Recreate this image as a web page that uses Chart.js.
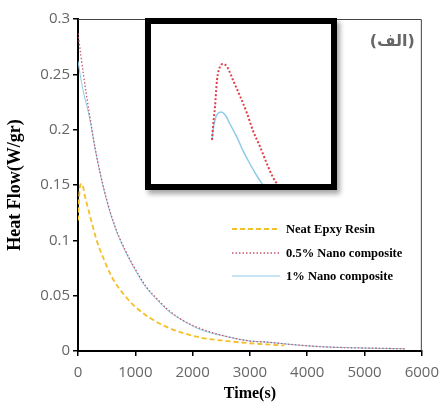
<!DOCTYPE html>
<html>
<head>
<meta charset="utf-8">
<script src="https://cdn.jsdelivr.net/npm/chart.js@4.4.1/dist/chart.umd.min.js"></script>
<style>
	html, body { margin: 0; padding: 0; background: #fff; }
	#wrap { position: relative; width: 447px; height: 412px; }
	#inset {
		position: absolute; left: 145px; top: 18px; width: 180px; height: 160px;
		border: 6px solid #000; background: #fff;
		box-shadow: 3px 4px 5px rgba(0,0,0,0.35);
	}
	canvas { display: block; }
</style>
</head>
<body>
<div id="wrap">
	<canvas id="main" width="447" height="412"></canvas>
	<div id="inset"><canvas id="zoom" width="180" height="160"></canvas></div>
</div>
<script>
// values
const timeNeat = [0, 15, 40, 70, 120, 200, 320, 450, 600, 800, 1000, 1250, 1580, 1850, 2150, 2600, 3000, 3300, 3600];
const heatNeat = [0.118, 0.135, 0.150, 0.151, 0.140, 0.124, 0.101, 0.083, 0.066, 0.051, 0.040, 0.030, 0.021, 0.016, 0.012, 0.009, 0.007, 0.006, 0.005];

const timeNano05 = [0, 50, 100, 200, 300, 400, 500, 650, 835, 1000, 1178, 1400, 1578, 1850, 2150, 2600, 3000, 3300, 3700, 4200, 4700, 5200, 5700];
const heatNano05 = [0.287, 0.267, 0.248, 0.214, 0.183, 0.158, 0.137, 0.112, 0.090, 0.074, 0.059, 0.046, 0.037, 0.027, 0.020, 0.013, 0.009, 0.008, 0.006, 0.004, 0.003, 0.0025, 0.002];

const timeNano1 = [0, 50, 100, 200, 300, 400, 500, 650, 835, 1000, 1178, 1400, 1578, 1850, 2150, 2600, 3000, 3300, 3700, 4200, 4700, 5200, 5700];
const heatNano1 = [0.262, 0.246, 0.233, 0.211, 0.182, 0.157, 0.136, 0.111, 0.089, 0.073, 0.058, 0.045, 0.036, 0.027, 0.019, 0.013, 0.009, 0.008, 0.006, 0.004, 0.003, 0.0025, 0.002];

const seriesLabels = ['Neat Epxy Resin', '0.5% Nano composite', '1% Nano composite'];

// zoomed start of the curves shown in the inset
const insetTime05 = [61, 62, 64, 66, 69, 72, 76, 82, 89, 96, 102, 109, 116, 122, 128];
const insetHeat05 = [0.193, 0.203, 0.218, 0.238, 0.248, 0.250, 0.248, 0.238, 0.226, 0.213, 0.200, 0.188, 0.175, 0.165, 0.158];
const insetTime1 = [61, 62, 64, 66, 70, 74, 79, 86, 92, 99, 106, 113];
const insetHeat1 = [0.193, 0.200, 0.208, 0.212, 0.214, 0.212, 0.205, 0.195, 0.185, 0.175, 0.166, 0.158];

const cornerLabel = '(الف)';

const YELLOW = '#f5bf2a';
const RED = '#c45a6c';
const BLUE = '#8ecbe8';

function toPoints(xs, ys) {
	return xs.map((x, i) => ({ x: x, y: ys[i] }));
}

const framePlugin = {
	id: 'frame',
	afterDraw(chart) {
		const { ctx, chartArea: a } = chart;
		ctx.save();
		ctx.strokeStyle = '#444';
		ctx.lineWidth = 1;
		ctx.beginPath();
		ctx.moveTo(a.left, a.top + 0.5);
		ctx.lineTo(a.right - 0.5, a.top + 0.5);
		ctx.lineTo(a.right - 0.5, a.bottom);
		ctx.stroke();

		// legend inside the plot
		const rows = [210, 234, 257];
		chart.data.datasets.forEach((ds, i) => {
			const y = a.top + rows[i];
			ctx.strokeStyle = ds.borderColor;
			ctx.lineWidth = ds.borderWidth;
			ctx.setLineDash(ds.borderDash || []);
			ctx.beginPath();
			ctx.moveTo(a.left + 154, y);
			ctx.lineTo(a.left + 202, y);
			ctx.stroke();
			ctx.setLineDash([]);
			ctx.fillStyle = '#000';
			ctx.font = 'bold 12.5px "Liberation Serif"';
			ctx.textAlign = 'left';
			ctx.textBaseline = 'middle';
			ctx.fillText(ds.label, a.left + 208, y + 1);
		});

		ctx.fillStyle = '#666';
		ctx.font = 'bold 16px "DejaVu Sans"';
		ctx.textAlign = 'right';
		ctx.textBaseline = 'middle';
		ctx.fillText(cornerLabel, a.right - 7, a.top + 23);
		ctx.restore();
	}
};

new Chart(document.getElementById('main').getContext('2d'), {
	type: 'line',
	data: {
		datasets: [
			{
				label: seriesLabels[0],
				data: toPoints(timeNeat, heatNeat),
				borderColor: YELLOW,
				borderWidth: 1.8,
				borderDash: [5, 3],
				pointRadius: 0,
				cubicInterpolationMode: 'monotone'
			},
			{
				label: seriesLabels[1],
				data: toPoints(timeNano05, heatNano05),
				borderColor: RED,
				borderWidth: 1.3,
				borderDash: [1.5, 2],
				pointRadius: 0,
				cubicInterpolationMode: 'monotone'
			},
			{
				label: seriesLabels[2],
				data: toPoints(timeNano1, heatNano1),
				borderColor: BLUE,
				borderWidth: 1,
				pointRadius: 0,
				cubicInterpolationMode: 'monotone'
			}
		]
	},
	options: {
		responsive: false,
		animation: false,
		devicePixelRatio: 1,
		layout: { padding: { top: 19, right: 19, left: 0, bottom: 0 } },
		plugins: {
			legend: { display: false },
			tooltip: { enabled: false }
		},
		scales: {
			x: {
				type: 'linear',
				min: 0,
				max: 6000,
				ticks: {
					stepSize: 1000,
					color: '#666',
					font: { family: 'Open Sans', size: 15 },
					padding: 8,
					maxRotation: 0,
					callback: v => String(v)
				},
				grid: { drawOnChartArea: false, tickLength: 5, color: '#000', lineWidth: 1.5 },
				border: { color: '#000', width: 2 },
				title: {
					display: true,
					text: 'Time(s)',
					color: '#000',
					font: { family: 'Liberation Serif', size: 16, weight: 'bold' },
					padding: { top: 0, bottom: 9 }
				},
				afterFit: s => { s.height = 61; }
			},
			y: {
				min: 0,
				max: 0.3,
				ticks: {
					stepSize: 0.05,
					color: '#666',
					font: { family: 'Open Sans', size: 15 },
					padding: 3,
					callback: v => String(+v.toFixed(2))
				},
				grid: { drawOnChartArea: false, tickLength: 5, color: '#000', lineWidth: 1.5 },
				border: { color: '#000', width: 2 },
				title: {
					display: true,
					text: 'Heat Flow(W/gr)',
					color: '#000',
					font: { family: 'Liberation Serif', size: 18, weight: 'bold' },
					padding: { top: 5, bottom: 0 }
				},
				afterFit: s => { s.width = 78; }
			}
		}
	},
	plugins: [framePlugin]
});

new Chart(document.getElementById('zoom').getContext('2d'), {
	type: 'line',
	data: {
		datasets: [
			{
				label: seriesLabels[1],
				data: toPoints(insetTime05, insetHeat05),
				borderColor: '#e0404c',
				borderWidth: 2,
				borderDash: [2, 2],
				pointRadius: 0,
				cubicInterpolationMode: 'monotone'
			},
			{
				label: seriesLabels[2],
				data: toPoints(insetTime1, insetHeat1),
				borderColor: BLUE,
				borderWidth: 1.5,
				pointRadius: 0,
				cubicInterpolationMode: 'monotone'
			}
		]
	},
	options: {
		responsive: false,
		animation: false,
		devicePixelRatio: 1,
		layout: { padding: 0 },
		plugins: { legend: { display: false }, tooltip: { enabled: false } },
		scales: {
			x: { type: 'linear', min: 0, max: 180, display: false },
			y: { min: 0.16, max: 0.28, display: false }
		}
	}
});
</script>
</body>
</html>
